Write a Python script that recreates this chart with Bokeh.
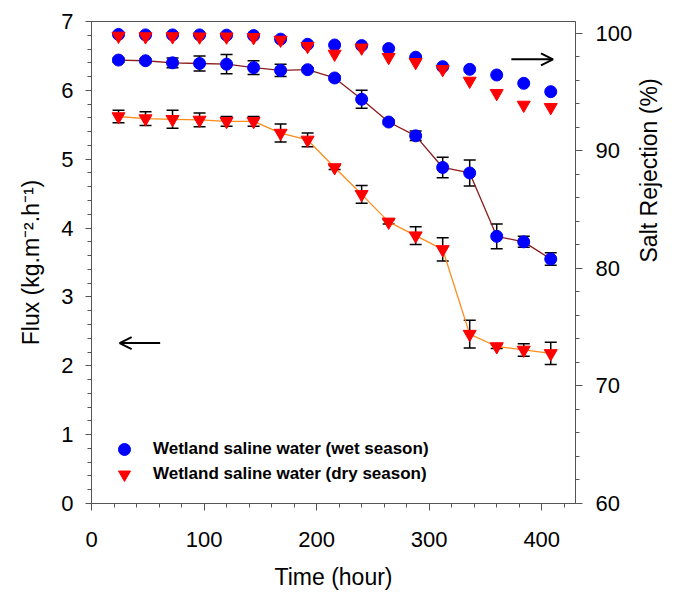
import math
from bokeh.plotting import figure
from bokeh.models import (Range1d, LinearAxis, FixedTicker, Whisker, ColumnDataSource,
                          Arrow, OpenHead, Legend, LegendItem, TeeHead)
from bokeh.embed import file_html
from bokeh.resources import INLINE

# ---------------- data ----------------
time_h = [24, 48, 72, 96, 120, 144, 168, 192, 216, 240, 264, 288, 312, 336, 360, 384, 408]

flux_wet = [6.44, 6.43, 6.40, 6.39, 6.38, 6.33, 6.29, 6.30, 6.18, 5.87, 5.54, 5.34, 4.88, 4.80, 3.88, 3.80, 3.55]
flux_wet_err = [0.03, 0.03, 0.07, 0.11, 0.14, 0.10, 0.09, 0.03, 0.03, 0.13, 0.03, 0.07, 0.15, 0.19, 0.18, 0.08, 0.09]

flux_dry = [5.62, 5.59, 5.58, 5.57, 5.55, 5.55, 5.38, 5.28, 4.88, 4.49, 4.09, 3.89, 3.69, 2.46, 2.28, 2.23, 2.18]
flux_dry_err = [0.09, 0.10, 0.13, 0.10, 0.07, 0.07, 0.13, 0.10, 0.03, 0.13, 0.03, 0.13, 0.17, 0.20, 0.03, 0.09, 0.16]

sr_wet = [99.90, 99.86, 99.86, 99.86, 99.84, 99.80, 99.50, 99.06, 99.00, 98.95, 98.70, 97.96, 97.16, 96.93, 96.45, 95.74, 95.03]
sr_dry = [99.77, 99.72, 99.72, 99.70, 99.70, 99.65, 99.43, 98.90, 98.24, 98.76, 97.96, 97.53, 96.93, 95.94, 94.89, 93.90, 93.70]

x_ticks = [0, 100, 200, 300, 400]
flux_ticks = [0, 1, 2, 3, 4, 5, 6, 7]
sr_ticks = [60, 70, 80, 90, 100]

labels = ["Wetland saline water (wet season)", "Wetland saline water (dry season)"]
sr_title = "Salt Rejection (%)"

# arrows (data units: time start, time end, flux)
arrow_right = (373, 410, 6.45)
arrow_left = (61, 25, 2.33)

FONT = "Liberation Sans"
AX = "#555555"

src = ColumnDataSource(dict(
    t=time_h,
    fw=flux_wet, fw_lo=[v - e for v, e in zip(flux_wet, flux_wet_err)], fw_hi=[v + e for v, e in zip(flux_wet, flux_wet_err)],
    fd=flux_dry, fd_lo=[v - e for v, e in zip(flux_dry, flux_dry_err)], fd_hi=[v + e for v, e in zip(flux_dry, flux_dry_err)],
    sw=sr_wet, sd=sr_dry,
))

p = figure(width=678, height=592, output_backend="svg", toolbar_location=None,
           x_range=Range1d(0, 430), y_range=Range1d(0, 7),
           min_border_left=91, min_border_right=103, min_border_top=21, min_border_bottom=88)
p.extra_y_ranges = {"sr": Range1d(60, 101)}
p.grid.visible = False
p.outline_line_color = AX
p.outline_line_width = 1
p.background_fill_color = "white"
p.border_fill_color = "white"


def style(ax, ticks, minor, label, standoff_lbl, standoff_title):
    ax.ticker = FixedTicker(ticks=ticks, minor_ticks=minor)
    ax.axis_label = label
    ax.axis_label_text_font = FONT
    ax.axis_label_text_font_size = "23px"
    ax.axis_label_text_font_style = "normal"
    ax.axis_label_text_color = "black"
    ax.axis_label_standoff = standoff_title
    ax.major_label_text_font = FONT
    ax.major_label_text_font_size = "22px"
    ax.major_label_text_color = "black"
    ax.major_label_standoff = standoff_lbl
    ax.axis_line_color = AX
    ax.major_tick_line_color = AX
    ax.minor_tick_line_color = AX
    ax.major_tick_out = 7
    ax.major_tick_in = 0
    ax.minor_tick_out = 4
    ax.minor_tick_in = 0


style(p.xaxis[0], x_ticks, list(range(0, 440, 20)), "Time (hour)", 21, 14)
style(p.yaxis[0], flux_ticks, [i * 0.2 for i in range(36)], "Flux (kg.m\u207b\u00b2.h\u207b\u00b9)", 12, 14)
p.yaxis[0].major_tick_out = 6

sr_axis = LinearAxis(y_range_name="sr")
style(sr_axis, sr_ticks, list(range(60, 102, 2)), sr_title, 13, 14)
if "axis_label_orientation" in sr_axis.properties():
    sr_axis.axis_label_orientation = math.pi / 2   # read bottom to top, like the left title
p.add_layout(sr_axis, "right")

# error bars
for lo, hi in (("fw_lo", "fw_hi"), ("fd_lo", "fd_hi")):
    w = Whisker(source=src, base="t", lower=lo, upper=hi, line_color="black", line_width=1.5,
                upper_head=TeeHead(size=12, line_color="black", line_width=1.5),
                lower_head=TeeHead(size=12, line_color="black", line_width=1.5),
                level="underlay")
    p.add_layout(w)

p.line("t", "fw", source=src, line_color="#8B1A1A", line_width=1.3)
p.line("t", "fd", source=src, line_color="#FF8C1A", line_width=1.3)

r_wet = p.scatter("t", "fw", source=src, marker="circle", size=12, fill_color="#0000FF", line_color="#0000FF")
r_dry = p.scatter("t", "fd", source=src, marker="inverted_triangle", size=13, fill_color="#FF0000", line_color="#FF0000")

p.scatter("t", "sw", source=src, y_range_name="sr", marker="circle", size=12, fill_color="#0000FF", line_color="#0000FF")
p.scatter("t", "sd", source=src, y_range_name="sr", marker="inverted_triangle", size=13, fill_color="#FF0000", line_color="#FF0000")

for xs, xe, yy in (arrow_right, arrow_left):
    p.add_layout(Arrow(end=OpenHead(size=12, line_width=2, line_color="black"),
                       x_start=xs, x_end=xe, y_start=yy, y_end=yy,
                       line_width=2, line_color="black"))

for lab, rend, loc in ((labels[0], r_wet, (18, 39)), (labels[1], r_dry, (18, 14))):
    lg = Legend(items=[LegendItem(label=lab, renderers=[rend])],
                location=loc, glyph_width=30, glyph_height=30,
                padding=0, margin=0, label_standoff=14, label_height=30,
                border_line_color=None, background_fill_alpha=0,
                label_text_font=FONT, label_text_font_size="17px", label_text_font_style="bold",
                label_text_color="black")
    p.add_layout(lg)

open("out.html", "w").write(file_html(p, INLINE))
